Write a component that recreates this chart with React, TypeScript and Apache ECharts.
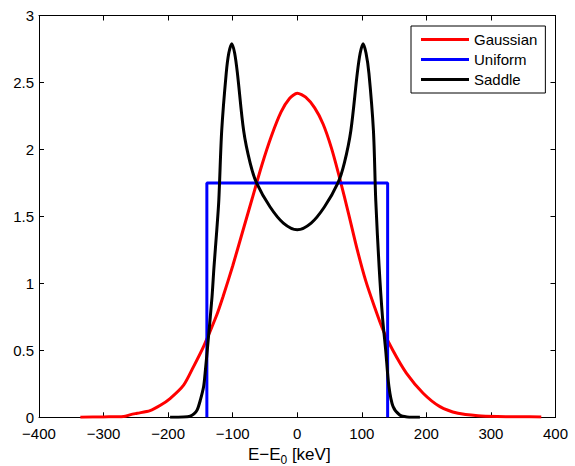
import React, { useEffect, useRef } from "react";
import * as echarts from "echarts";

const FONT = "'Liberation Sans', Arial, Helvetica, sans-serif";

const seriesNames = ["Gaussian", "Uniform", "Saddle"];

const gaussX = [-336, -300, -269, -258, -248, -228, -212, -197, -176, -161, -145, -125, -115, -100, -85, -70, -55, -40, -25, -12, 0, 13, 27, 40, 53, 66, 80, 93, 106, 120, 133, 148, 169, 195, 221, 249, 280, 310, 345, 378];
const gaussY = [0, 0.003, 0.006, 0.02, 0.03, 0.05, 0.09, 0.14, 0.24, 0.375, 0.53, 0.76, 0.9, 1.13, 1.38, 1.63, 1.88, 2.1, 2.28, 2.38, 2.42, 2.39, 2.31, 2.19, 2.01, 1.78, 1.51, 1.25, 1.02, 0.82, 0.65, 0.5, 0.33, 0.18, 0.08, 0.03, 0.012, 0.006, 0.004, 0.003];

const uniformX = [-140, -140, 140, 140];
const uniformY = [0, 1.75, 1.75, 0];

const saddleX = [-197, -176, -166, -160, -155, -150, -145, -142.7, -137.5, -132, -129, -124.6, -121.5, -117, -110, -106, -101.4, -97, -92.7, -83, -73, -63, -42, -21.5, 0, 21.5, 42, 63, 73, 83, 93, 97.5, 102, 106.5, 111, 118, 121.6, 126.8, 132, 137, 142, 148.4, 158.7, 170, 190];
const saddleY = [0, 0.002, 0.008, 0.025, 0.055, 0.13, 0.23, 0.33, 0.6, 0.9, 1.12, 1.4, 1.62, 2.14, 2.57, 2.72, 2.79, 2.72, 2.57, 2.14, 1.9, 1.75, 1.57, 1.45, 1.4, 1.45, 1.57, 1.75, 1.9, 2.14, 2.57, 2.72, 2.79, 2.72, 2.57, 2.14, 1.62, 1.125, 0.75, 0.5, 0.23, 0.08, 0.017, 0.003, 0];

const colors = ["#ff0000", "#0000ff", "#000000"];

const xMin = -400;
const xMax = 400;
const xStep = 100;
const yMin = 0;
const yMax = 3;
const yStep = 0.5;

const zip = (xs: number[], ys: number[]) => xs.map((x, i) => [x, ys[i]]);

export default function App() {
  const ref = useRef<HTMLDivElement>(null);
  useEffect(() => {
    if (!ref.current) return;
    const chart = echarts.init(ref.current, null, { renderer: "svg" });
    const axisLine = { show: true, onZero: false, lineStyle: { color: "#000", width: 1 } };
    const tick = { show: true, inside: true, length: 5, lineStyle: { color: "#000", width: 1 } };
    const fmt = (v: number) => String(v).replace("-", "\u2212");
    chart.setOption({
      animation: false,
      backgroundColor: "#fff",
      textStyle: { fontFamily: FONT },
      grid: { left: 39, right: 19.5, top: 15.5, bottom: 48.7, containLabel: false, outerBoundsMode: "none" },
      legend: {
        data: seriesNames,
        orient: "vertical",
        left: 411,
        top: 26,
        padding: [6, 8, 6, 10],
        itemGap: 5,
        itemWidth: 48,
        itemHeight: 3,
        icon: "rect",
        borderColor: "#000",
        borderWidth: 1,
        borderRadius: 0,
        backgroundColor: "#fff",
        textStyle: { fontSize: 15, lineHeight: 15, color: "#000", fontFamily: FONT },
      },
      xAxis: [
        {
          type: "value",
          min: xMin,
          max: xMax,
          interval: xStep,
          position: "bottom",
          axisLine,
          axisTick: tick,
          splitLine: { show: false },
          axisLabel: { fontSize: 15, lineHeight: 12, color: "#000", margin: 10, fontFamily: FONT, formatter: fmt },
          name: "{m|E\u2212E}{s|0}{m| [keV]}",
          nameLocation: "middle",
          nameGap: 18.5,
          nameTextStyle: {
            padding: [0, 16, 0, 0],
            rich: {
              m: { fontSize: 17, color: "#000", fontFamily: FONT },
              s: { fontSize: 12, color: "#000", fontFamily: FONT, padding: [11, 0, 0, 0] },
            },
          },
        },
        {
          type: "value",
          min: xMin,
          max: xMax,
          interval: xStep,
          position: "top",
          axisLine,
          axisTick: tick,
          splitLine: { show: false },
          axisLabel: { show: false },
        },
      ],
      yAxis: [
        {
          type: "value",
          min: yMin,
          max: yMax,
          interval: yStep,
          position: "left",
          axisLine,
          axisTick: tick,
          splitLine: { show: false },
          axisLabel: { fontSize: 15, lineHeight: 12, color: "#000", margin: 5, fontFamily: FONT },
        },
        {
          type: "value",
          min: yMin,
          max: yMax,
          interval: yStep,
          position: "right",
          axisLine,
          axisTick: tick,
          splitLine: { show: false },
          axisLabel: { show: false },
        },
      ],
      series: [
        {
          name: seriesNames[0],
          type: "line",
          data: zip(gaussX, gaussY),
          symbol: "none",
          smooth: 0.25,
          lineStyle: { color: colors[0], width: 3 },
          itemStyle: { color: colors[0] },
        },
        {
          name: seriesNames[1],
          type: "line",
          data: zip(uniformX, uniformY),
          symbol: "none",
          lineStyle: { color: colors[1], width: 3 },
          itemStyle: { color: colors[1] },
        },
        {
          name: seriesNames[2],
          type: "line",
          data: zip(saddleX, saddleY),
          symbol: "none",
          smooth: 0.3,
          lineStyle: { color: colors[2], width: 3 },
          itemStyle: { color: colors[2] },
        },
      ],
    });
    return () => chart.dispose();
  }, []);
  return <div ref={ref} style={{ position: "absolute", left: 0, top: 0, width: 575, height: 466 }} />;
}
